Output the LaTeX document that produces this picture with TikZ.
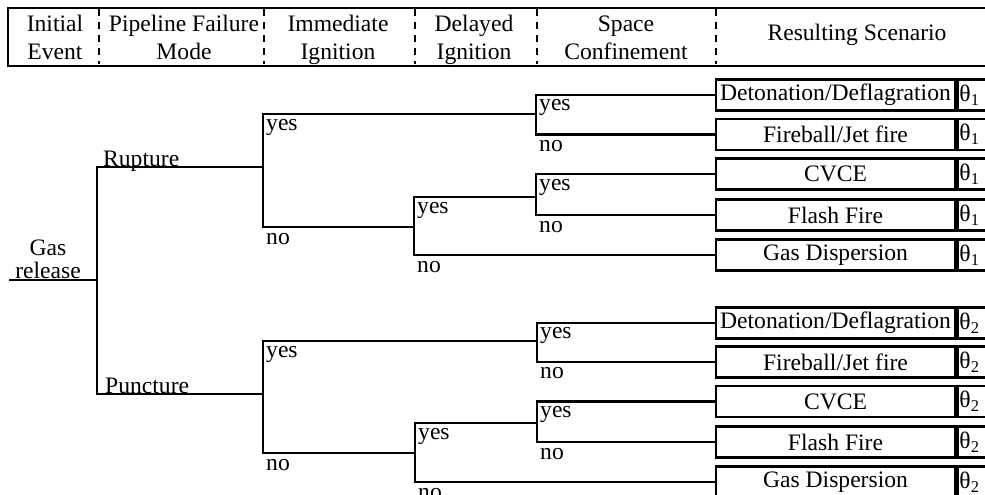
\documentclass[tikz,border=0pt]{standalone}
\usepackage{fontspec}
\setmainfont{Liberation Serif}
\begin{document}
\begin{tikzpicture}[x=1pt,y=-1pt,
  txt/.style={font=\fontsize{23.6}{28}\selectfont, inner sep=0pt},
  hdr/.style={txt, align=center, anchor=base},
  lbl/.style={txt, anchor=base west},
  tree/.style={line width=2.2pt, line join=miter},
  scen/.style={txt, draw, line width=2.5pt, minimum width=239pt, minimum height=31pt},
  thcell/.style={draw, line width=2.5pt, minimum width=50pt, minimum height=31pt, anchor=west, inner sep=0pt},
  divider/.style={line width=2pt, dash pattern=on 7pt off 6pt}]
\useasboundingbox (0,0) rectangle (985,495);
\clip (0,0) rectangle (985,495);

% ---------- header ----------
\draw[line width=2.5pt] (1000,8) -- (8,8) -- (8,66) -- (1000,66);
\foreach \xx in {98.5,263.5,415,537,716}
  \draw[divider] (\xx,9.5) -- (\xx,64.5);
\node[hdr] (h1a) at (55,31.5) {Initial};
\node[hdr] (h1b) at (55,59.3) {Event};
\node[hdr] (h2a) at (184,31.5) {Pipeline Failure};
\node[hdr] (h2b) at (184,59.3) {Mode};
\node[hdr] (h3a) at (338,31.5) {Immediate};
\node[hdr] (h3b) at (338,59.3) {Ignition};
\node[hdr] (h4a) at (474,31.5) {Delayed};
\node[hdr] (h4b) at (474,59.3) {Ignition};
\node[hdr] (h5a) at (626,31.5) {Space};
\node[hdr] (h5b) at (626,59.3) {Confinement};
\node[hdr] (h6) at (857,40.5) {Resulting Scenario};

% ---------- scenario boxes ----------
\foreach \nm/\yy/\tx/\sub in {d1/95/Detonation\slash Deflagration/1, f1/134.5/Fireball\slash Jet fire/1,
  c1/174/CVCE/1, ff1/215/Flash Fire/1, g1/255/Gas Dispersion/1,
  d2/323/Detonation\slash Deflagration/2, f2/362/Fireball\slash Jet fire/2,
  c2/401.5/CVCE/2, ff2/442/Flash Fire/2, g2/482/Gas Dispersion/2}{
  \node[scen] (\nm) at (835.5,\yy) {\tx};
  \node[thcell] (t\nm) at (\nm.east) {};
  \node[txt, anchor=west] (l\nm) at ([xshift=3pt]t\nm.west) {θ\textsubscript{\sub}};
}

% ---------- tree coordinates ----------
\coordinate (gs) at (9,280);
\coordinate (g0) at (97,280);
\coordinate (rA) at (97,167);
\coordinate (pA) at (97,394);
\coordinate (rB) at (263,167);
\coordinate (pB) at (263,394);
\coordinate (rCy) at (536,114);
\coordinate (rDn) at (414,227);
\coordinate (rEy) at (536,197);
\coordinate (pCy) at (537,341);
\coordinate (pDn) at (415,453);
\coordinate (pEy) at (537,423);

% ---------- tree ----------
\draw[tree] (gs) -- (g0);
\draw[tree] (rB) -- (rA) -- (pA) -- (pB);
% rupture
\draw[tree] (rCy) -| (rB) |- (rDn);
\draw[tree] (rEy) -| (rDn) |- (g1.west);
\draw[tree] (d1.west) -| (rCy) |- (f1.west);
\draw[tree] (c1.west) -| (rEy) |- (ff1.west);
% puncture
\draw[tree] (pCy) -| (pB) |- (pDn);
\draw[tree] (pEy) -| (pDn) |- (g2.west);
\draw[tree] (d2.west) -| (pCy) |- (f2.west);
\draw[tree] (c2.west) -| (pEy) |- (ff2.west);

% ---------- labels ----------
\node[txt, align=center, anchor=base] (gas) at (48,255) {Gas};
\node[txt, align=center, anchor=base] (rel) at (48,278) {release};
\node[lbl] (rup) at (103,166) {Rupture};
\node[lbl] (pun) at (105,393) {Puncture};

\node[lbl] (y1) at (266,130.5) {yes};
\node[lbl] (n1) at (266,244.5) {no};
\node[lbl] (y2) at (417,213.5) {yes};
\node[lbl] (n2) at (417,272.5) {no};
\node[lbl] (y3) at (539,110.5) {yes};
\node[lbl] (n3) at (539,151.5) {no};
\node[lbl] (y4) at (539,190.5) {yes};
\node[lbl] (n4) at (539,232.5) {no};

\node[lbl] (y5) at (266,357.5) {yes};
\node[lbl] (n5) at (266,470.5) {no};
\node[lbl] (y6) at (418,439.5) {yes};
\node[lbl] (n6) at (418,499.5) {no};
\node[lbl] (y7) at (540,338.5) {yes};
\node[lbl] (n7) at (540,378.5) {no};
\node[lbl] (y8) at (540,417.5) {yes};
\node[lbl] (n8) at (540,459.5) {no};
\end{tikzpicture}
\end{document}
